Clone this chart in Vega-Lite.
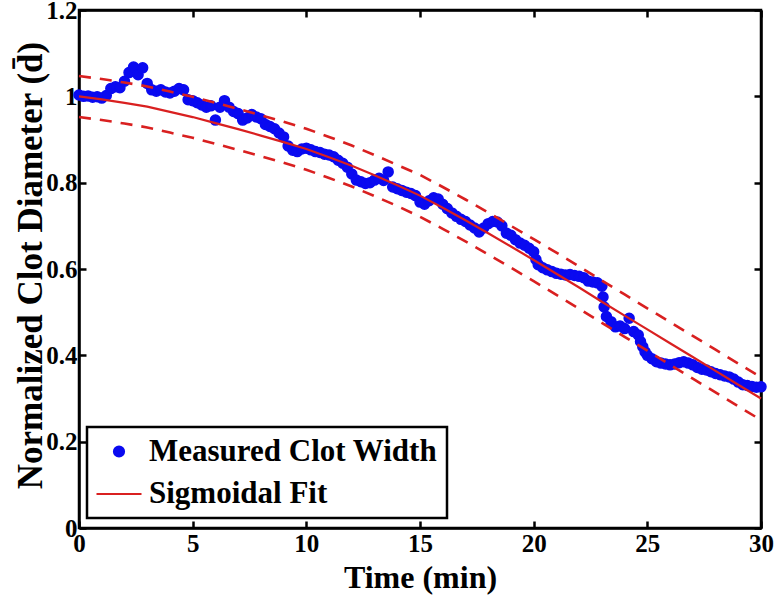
{
  "$schema": "https://vega.github.io/schema/vega-lite/v6.json",
  "autosize": "none",
  "padding": {"left": 79, "top": 10, "right": 13, "bottom": 68},
  "width": 682,
  "height": 518,
  "background": "white",
  "config": {
    "view": {"stroke": "black", "strokeWidth": 2.5},
    "font": "Liberation Serif",
    "axis": {
      "labelFont": "Liberation Serif", "labelFontWeight": "bold", "labelColor": "black",
      "titleFont": "Liberation Serif", "titleFontWeight": "bold", "titleColor": "black",
      "domainColor": "black", "domainWidth": 2.5, "tickColor": "black", "tickWidth": 2.5,
      "grid": false
    },
    "legend": {"labelFont": "Liberation Serif", "labelFontWeight": "bold", "labelColor": "black", "strokeWidth": 2.5}
  },
  "datasets": {
    "measured": [
      {"t":0.0,"d":1.003},{"t":0.2,"d":1.000},{"t":0.4,"d":1.001},{"t":0.6,"d":0.998},{"t":0.8,"d":0.999},
      {"t":1.0,"d":0.996},{"t":1.2,"d":1.002},{"t":1.4,"d":1.018},{"t":1.6,"d":1.022},{"t":1.8,"d":1.020},
      {"t":2.0,"d":1.035},{"t":2.2,"d":1.055},{"t":2.4,"d":1.068},{"t":2.6,"d":1.050},{"t":2.8,"d":1.066},
      {"t":3.0,"d":1.030},{"t":3.2,"d":1.015},{"t":3.4,"d":1.012},{"t":3.6,"d":1.015},{"t":3.8,"d":1.010},
      {"t":4.0,"d":1.008},{"t":4.2,"d":1.012},{"t":4.4,"d":1.018},{"t":4.6,"d":1.015},{"t":4.8,"d":0.992},
      {"t":5.0,"d":0.990},{"t":5.2,"d":0.985},{"t":5.4,"d":0.980},{"t":5.6,"d":0.975},{"t":5.8,"d":0.978},
      {"t":6.0,"d":0.945},{"t":6.2,"d":0.975},{"t":6.4,"d":0.990},{"t":6.6,"d":0.975},{"t":6.8,"d":0.965},
      {"t":7.0,"d":0.960},{"t":7.2,"d":0.945},{"t":7.4,"d":0.950},{"t":7.6,"d":0.958},{"t":7.8,"d":0.952},
      {"t":8.0,"d":0.948},{"t":8.2,"d":0.935},{"t":8.4,"d":0.930},{"t":8.6,"d":0.925},{"t":8.8,"d":0.915},
      {"t":9.0,"d":0.906},{"t":9.2,"d":0.885},{"t":9.4,"d":0.875},{"t":9.6,"d":0.872},{"t":9.8,"d":0.878},
      {"t":10.0,"d":0.880},{"t":10.2,"d":0.876},{"t":10.4,"d":0.872},{"t":10.6,"d":0.870},{"t":10.8,"d":0.866},
      {"t":11.0,"d":0.864},{"t":11.2,"d":0.860},{"t":11.4,"d":0.852},{"t":11.6,"d":0.845},{"t":11.8,"d":0.836},
      {"t":12.0,"d":0.820},{"t":12.2,"d":0.806},{"t":12.4,"d":0.802},{"t":12.6,"d":0.798},{"t":12.8,"d":0.800},
      {"t":13.0,"d":0.806},{"t":13.2,"d":0.810},{"t":13.4,"d":0.805},{"t":13.6,"d":0.825},{"t":13.8,"d":0.790},
      {"t":14.0,"d":0.786},{"t":14.2,"d":0.782},{"t":14.4,"d":0.778},{"t":14.6,"d":0.775},{"t":14.8,"d":0.770},
      {"t":15.0,"d":0.755},{"t":15.2,"d":0.750},{"t":15.4,"d":0.758},{"t":15.6,"d":0.765},{"t":15.8,"d":0.762},
      {"t":16.0,"d":0.750},{"t":16.2,"d":0.740},{"t":16.4,"d":0.730},{"t":16.6,"d":0.722},{"t":16.8,"d":0.715},
      {"t":17.0,"d":0.710},{"t":17.2,"d":0.702},{"t":17.4,"d":0.695},{"t":17.6,"d":0.686},{"t":17.8,"d":0.695},
      {"t":18.0,"d":0.705},{"t":18.2,"d":0.710},{"t":18.4,"d":0.709},{"t":18.6,"d":0.700},{"t":18.8,"d":0.683},
      {"t":19.0,"d":0.678},{"t":19.2,"d":0.668},{"t":19.4,"d":0.660},{"t":19.6,"d":0.655},{"t":19.8,"d":0.648},
      {"t":20.0,"d":0.640},{"t":20.1,"d":0.622},{"t":20.2,"d":0.610},{"t":20.4,"d":0.603},{"t":20.6,"d":0.598},{"t":20.8,"d":0.594},
      {"t":21.0,"d":0.590},{"t":21.2,"d":0.588},{"t":21.4,"d":0.586},{"t":21.6,"d":0.587},{"t":21.8,"d":0.585},
      {"t":22.0,"d":0.583},{"t":22.2,"d":0.580},{"t":22.4,"d":0.572},{"t":22.6,"d":0.570},{"t":22.8,"d":0.568},
      {"t":23.0,"d":0.560},{"t":23.05,"d":0.535},{"t":23.1,"d":0.512},{"t":23.2,"d":0.490},{"t":23.4,"d":0.478},{"t":23.6,"d":0.466},{"t":23.8,"d":0.468},
      {"t":24.0,"d":0.462},{"t":24.2,"d":0.486},{"t":24.4,"d":0.455},{"t":24.6,"d":0.447},{"t":24.7,"d":0.432},{"t":24.8,"d":0.420},
      {"t":24.9,"d":0.408},{"t":25.0,"d":0.400},{"t":25.2,"d":0.392},{"t":25.4,"d":0.385},{"t":25.6,"d":0.382},{"t":25.8,"d":0.380},
      {"t":26.0,"d":0.378},{"t":26.2,"d":0.380},{"t":26.4,"d":0.383},{"t":26.6,"d":0.385},{"t":26.8,"d":0.382},
      {"t":27.0,"d":0.378},{"t":27.2,"d":0.372},{"t":27.4,"d":0.368},{"t":27.6,"d":0.366},{"t":27.8,"d":0.362},
      {"t":28.0,"d":0.358},{"t":28.2,"d":0.355},{"t":28.4,"d":0.352},{"t":28.6,"d":0.350},{"t":28.8,"d":0.345},
      {"t":29.0,"d":0.338},{"t":29.2,"d":0.332},{"t":29.4,"d":0.330},{"t":29.6,"d":0.328},{"t":29.8,"d":0.326},
      {"t":30.0,"d":0.327}
    ],
    "fit": [
      {"t":0,"fit":1.000,"lo":0.952,"hi":1.047},{"t":1,"fit":0.993,"lo":0.945,"hi":1.040},
      {"t":2,"fit":0.985,"lo":0.937,"hi":1.032},{"t":3,"fit":0.976,"lo":0.928,"hi":1.023},
      {"t":4,"fit":0.964,"lo":0.916,"hi":1.011},{"t":5,"fit":0.952,"lo":0.904,"hi":0.999},
      {"t":6,"fit":0.938,"lo":0.890,"hi":0.985},{"t":7,"fit":0.924,"lo":0.876,"hi":0.971},
      {"t":8,"fit":0.909,"lo":0.861,"hi":0.956},{"t":9,"fit":0.894,"lo":0.846,"hi":0.941},
      {"t":10,"fit":0.878,"lo":0.830,"hi":0.925},{"t":11,"fit":0.859,"lo":0.811,"hi":0.906},
      {"t":12,"fit":0.839,"lo":0.791,"hi":0.886},{"t":13,"fit":0.817,"lo":0.769,"hi":0.864},
      {"t":14,"fit":0.794,"lo":0.746,"hi":0.841},{"t":15,"fit":0.770,"lo":0.721,"hi":0.818},
      {"t":16,"fit":0.742,"lo":0.693,"hi":0.790},{"t":17,"fit":0.713,"lo":0.664,"hi":0.761},
      {"t":18,"fit":0.683,"lo":0.634,"hi":0.731},{"t":19,"fit":0.652,"lo":0.603,"hi":0.700},
      {"t":20,"fit":0.621,"lo":0.572,"hi":0.669},{"t":21,"fit":0.589,"lo":0.540,"hi":0.638},
      {"t":22,"fit":0.557,"lo":0.508,"hi":0.606},{"t":23,"fit":0.524,"lo":0.475,"hi":0.573},
      {"t":24,"fit":0.492,"lo":0.443,"hi":0.541},{"t":25,"fit":0.460,"lo":0.411,"hi":0.509},
      {"t":26,"fit":0.428,"lo":0.378,"hi":0.477},{"t":27,"fit":0.396,"lo":0.346,"hi":0.445},
      {"t":28,"fit":0.364,"lo":0.314,"hi":0.413},{"t":29,"fit":0.332,"lo":0.282,"hi":0.381},
      {"t":30,"fit":0.300,"lo":0.250,"hi":0.349}
    ]
  },
  "resolve": {"axis": {"x": "independent", "y": "independent"}},
  "layer": [
    {
      "data": {"name": "measured"},
      "mark": {"type": "point", "filled": true, "opacity": 1, "clip": false, "strokeWidth": 1.5},
      "encoding": {
        "x": {"field": "t", "type": "quantitative",
          "scale": {"domain": [0, 30], "nice": false, "zero": false},
          "axis": {"orient": "bottom", "title": "Time (min)", "values": [0,5,10,15,20,25,30],
            "labelFontSize": 25, "titleFontSize": 32, "tickSize": -7, "labelPadding": 10,
            "labelFlush": false, "labelOverlap": false, "titlePadding": 6}},
        "y": {"field": "d", "type": "quantitative",
          "scale": {"domain": [0, 1.2], "nice": false, "zero": false},
          "axis": {"orient": "left", "title": "Normalized Clot Diameter (d\u0304)", "values": [0,0.2,0.4,0.6,0.8,1,1.2],
            "format": "~g", "labelFontSize": 25, "titleFontSize": 35, "tickSize": -7, "labelPadding": 9,
            "labelFlush": false, "labelOverlap": false, "titleX": -31, "titleY": 255}},
        "color": {"datum": "Measured Clot Width", "type": "nominal",
          "scale": {"domain": ["Measured Clot Width", "Sigmoidal Fit"], "range": ["#0a0af0", "#d92020"]},
          "legend": {
            "title": null, "orient": "none", "legendX": 8, "legendY": 417,
            "labelFontSize": 31, "labelLimit": 500, "symbolOffset": -1, "labelOffset": 6,
            "rowPadding": 3, "padding": 9, "strokeColor": "black", "fillColor": "white",
            "symbolStrokeWidth": 2.2
          }},
        "stroke": {"datum": "Measured Clot Width", "type": "nominal",
          "scale": {"domain": ["Measured Clot Width", "Sigmoidal Fit"], "range": ["#0a0af0", "#d92020"]}},
        "shape": {"datum": "Measured Clot Width", "type": "nominal",
          "scale": {"domain": ["Measured Clot Width", "Sigmoidal Fit"], "range": ["circle", "stroke"]}},
        "size": {"datum": "Measured Clot Width", "type": "nominal",
          "scale": {"type": "point", "padding": 0, "domain": ["Measured Clot Width", "Sigmoidal Fit"], "range": [100, 2025]}}
      }
    },
    {
      "data": {"name": "fit"},
      "mark": {"type": "line", "strokeWidth": 2.2},
      "encoding": {
        "x": {"field": "t", "type": "quantitative", "axis": null},
        "y": {"field": "fit", "type": "quantitative", "axis": null},
        "color": {"datum": "Sigmoidal Fit", "type": "nominal", "legend": null}
      }
    },
    {
      "data": {"name": "fit"},
      "mark": {"type": "line", "strokeWidth": 2.6, "strokeDash": [12, 9], "color": "#d92020"},
      "encoding": {
        "x": {"field": "t", "type": "quantitative", "axis": null},
        "y": {"field": "hi", "type": "quantitative", "axis": null}
      }
    },
    {
      "data": {"name": "fit"},
      "mark": {"type": "line", "strokeWidth": 2.6, "strokeDash": [12, 9], "color": "#d92020"},
      "encoding": {
        "x": {"field": "t", "type": "quantitative",
          "axis": {"orient": "top", "title": null, "labels": false, "values": [0,5,10,15,20,25,30], "tickSize": -7, "domain": true}},
        "y": {"field": "lo", "type": "quantitative",
          "axis": {"orient": "right", "title": null, "labels": false, "values": [0,0.2,0.4,0.6,0.8,1,1.2], "tickSize": -7, "domain": true}}
      }
    }
  ]
}
